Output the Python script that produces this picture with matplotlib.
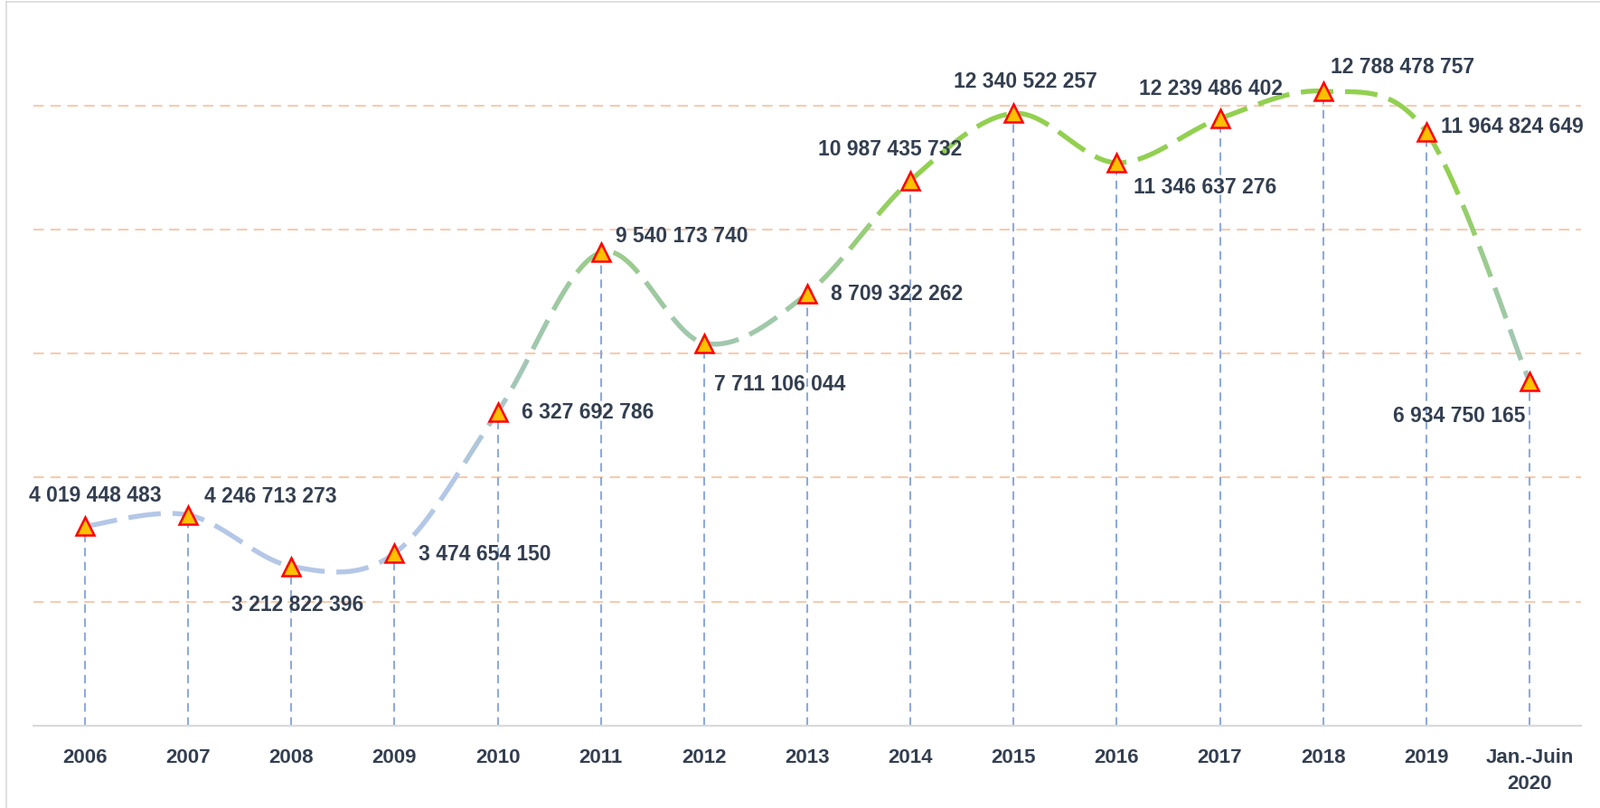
import numpy as np
import matplotlib.pyplot as plt
from matplotlib.collections import LineCollection
from matplotlib.colors import to_rgb
from matplotlib.lines import Line2D

# data
categories = ['2006', '2007', '2008', '2009', '2010', '2011', '2012', '2013',
              '2014', '2015', '2016', '2017', '2018', '2019', 'Jan.-Juin\n2020']
values = [4019448483, 4246713273, 3212822396, 3474654150, 6327692786,
          9540173740, 7711106044, 8709322262, 10987435732, 12340522257,
          11346637276, 12239486402, 12788478757, 11964824649, 6934750165]
labels = [f'{v:,}'.replace(',', ' ') for v in values]

# label placement: (dx px, dy px, ha)
offsets = [(11, 35, 'center'), (18, 21, 'left'), (7, -42, 'center'),
           (27, 0, 'left'), (26, 0, 'left'), (16, 19, 'left'),
           (11, -45, 'left'), (26, 0, 'left'), (-23, 35, 'center'),
           (13, 36, 'center'), (19, -26, 'left'), (-10, 34, 'center'),
           (8, 27, 'left'), (16, 7, 'left'), (-5, -37, 'right')]

txt_color = '#333f50'
font = 'Liberation Sans'

# vertical colour gradient of the line (value -> colour)
grad_stops = [(0, '#b4c7e7'), (5, '#b4c7e7'), (7, '#a3c6b8'),
              (9, '#9dca9c'), (11, '#92d050'), (20, '#92d050')]


def grad_color(v):
    v = v / 1e9
    xs = [s[0] for s in grad_stops]
    rgb = np.array([to_rgb(s[1]) for s in grad_stops])
    return tuple(np.interp(v, xs, rgb[:, k]) for k in range(3))


def smooth(p, n=60):
    # Catmull-Rom style bezier smoothing (like Excel smoothed lines)
    ext = np.vstack([p[0], p, p[-1]])
    out = []
    for i in range(1, len(ext) - 2):
        p0, p1, p2, p3 = ext[i - 1], ext[i], ext[i + 1], ext[i + 2]
        c1 = p1 + (p2 - p0) / 6
        c2 = p2 - (p3 - p1) / 6
        t = np.linspace(0, 1, n, endpoint=False)[:, None]
        out.append((1 - t) ** 3 * p1 + 3 * (1 - t) ** 2 * t * c1
                   + 3 * (1 - t) * t ** 2 * c2 + t ** 3 * p2)
    out.append(p[-1:])
    return np.vstack(out)


W, H = 1770, 895
fig = plt.figure(figsize=(W / 100, H / 100), dpi=100)
ax = fig.add_axes([37 / W, (H - 804) / H, (1749 - 37) / W, (804 - 20) / H])
x = np.arange(len(categories))
ax.set_xlim(-0.5, len(categories) - 0.5)
ax.set_ylim(0, 14.28e9)

# horizontal grid
ax.set_yticks([2.5e9, 5e9, 7.5e9, 10e9, 12.5e9])
ax.yaxis.grid(True, color='#f8cbad', lw=1.5, linestyle=(0, (5.5, 3.5)))
ax.tick_params(axis='y', length=0, labelleft=False)
ax.set_axisbelow(True)

# drop lines
ax.vlines(x, 0, values, colors='#8faadc', lw=1.5,
          linestyles=[(0, (4.5, 3))], zorder=2)

# smoothed dashed line with gradient
pix = ax.transData.transform(np.column_stack([x, values]))
curve = smooth(pix)
d = np.hypot(*np.diff(curve, axis=0).T)
s = np.concatenate([[0], np.cumsum(d)])
dash, gap = 36, 13
segs, cols = [], []
start = 0.0
while start < s[-1]:
    end = min(start + dash, s[-1])
    ss = np.linspace(start, end, 25)
    pts = np.column_stack([np.interp(ss, s, curve[:, 0]),
                           np.interp(ss, s, curve[:, 1])])
    pts = ax.transData.inverted().transform(pts)
    segs.append(pts)
    cols.append(grad_color(pts[:, 1].mean()))
    start += dash + gap
ax.add_collection(LineCollection(segs, colors=cols, linewidths=3.9,
                                 capstyle='butt', zorder=3))

# markers
ax.plot(x, values, linestyle='none', marker='^', ms=14, mfc='#ffc000',
        mec='#ff0000', mew=1.8, zorder=4)

# value labels
for xi, v, lab, (dx, dy, ha) in zip(x, values, labels, offsets):
    ax.annotate(lab, (xi, v), xytext=(dx, dy), textcoords='offset pixels',
                ha=ha, va='center', fontsize=16.5, fontweight='bold',
                color=txt_color, family=font, zorder=5)

# x axis
ax.set_xticks(x)
ax.set_xticklabels(categories, fontsize=16, fontweight='bold',
                   color=txt_color, family=font, linespacing=1.5, va='top')
ax.tick_params(axis='x', length=0, pad=17)
for side in ['left', 'right', 'top']:
    ax.spines[side].set_visible(False)
ax.spines['bottom'].set_color('#d9d9d9')
ax.spines['bottom'].set_linewidth(1.5)

# chart border
fig.add_artist(Line2D([7 / W, 7 / W], [0, 1 - 3 / H], transform=fig.transFigure,
                      color='#d9d9d9', lw=1.2))
fig.add_artist(Line2D([7 / W, 1], [1 - 3 / H, 1 - 3 / H], transform=fig.transFigure,
                      color='#d9d9d9', lw=1.2))

fig.savefig('out.png', dpi=100)
